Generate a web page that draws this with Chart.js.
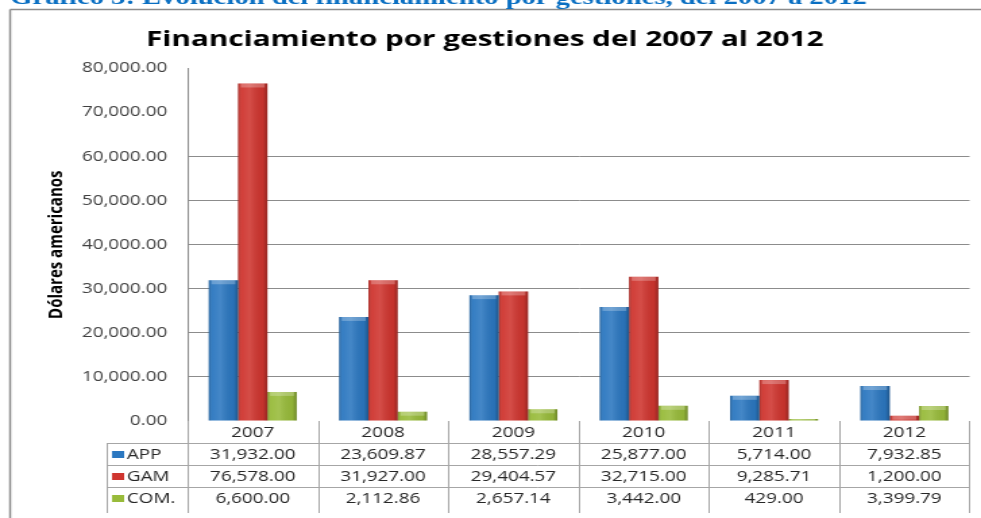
<!DOCTYPE html>
<html>
<head>
<meta charset="utf-8">
<script src="https://cdn.jsdelivr.net/npm/chart.js@4/dist/chart.umd.min.js"></script>
<style>
  html, body { margin: 0; padding: 0; background: #fff; overflow: hidden; }
  /* the reference picture is stretched sideways, so the chart is drawn narrow and widened */
  #wrap { width: 727px; height: 518px; transform: scaleX(1.3494); transform-origin: 0 0; }
</style>
</head>
<body>
<div id="wrap"><canvas id="finChart" width="727" height="518"></canvas></div>
<script>
const heading = "Gráfico 3: Evolución del financiamiento por gestiones, del 2007 a 2012";
const years = ["2007", "2008", "2009", "2010", "2011", "2012"];
const seriesNames = ["APP", "GAM", "COM."];
const appValues = [31932.00, 23609.87, 28557.29, 25877.00, 5714.00, 7932.85];
const gamValues = [76578.00, 31927.00, 29404.57, 32715.00, 9285.71, 1200.00];
const comValues = [6600.00, 2112.86, 2657.14, 3442.00, 429.00, 3399.79];
const seriesColors = ["#2b77c0", "#cf352f", "#98bb3a"];

const fmt = (v) => v.toLocaleString("en-US", { minimumFractionDigits: 2, maximumFractionDigits: 2 });

// bevel-like shading on top of each bar
const shadePlugin = {
  id: "shade",
  afterDatasetsDraw(chart) {
    const ctx = chart.ctx;
    ctx.save();
    chart.data.datasets.forEach((ds, d) => {
      chart.getDatasetMeta(d).data.forEach((bar) => {
        const left = bar.x - bar.width / 2;
        const h = bar.base - bar.y;
        if (h <= 0) return;
        const g = ctx.createLinearGradient(left, 0, left + bar.width, 0);
        g.addColorStop(0, "rgba(0,0,0,0.22)");
        g.addColorStop(0.12, "rgba(255,255,255,0.05)");
        g.addColorStop(0.4, "rgba(255,255,255,0.12)");
        g.addColorStop(0.85, "rgba(0,0,0,0.05)");
        g.addColorStop(1, "rgba(0,0,0,0.28)");
        ctx.fillStyle = g;
        ctx.fillRect(left, bar.y, bar.width, h);
        const t = Math.min(4, h);
        ctx.fillStyle = "rgba(255,255,255,0.25)";
        ctx.fillRect(left + 2, bar.y, bar.width - 4, t);
      });
    });
    ctx.restore();
  }
};

// frame, heading and the data table under the plot
const tablePlugin = {
  id: "dataTable",
  afterDraw(chart) {
    const ctx = chart.ctx;
    const xs = chart.scales.x;
    const area = chart.chartArea;
    const half = (area.right - area.left) / years.length / 2;
    const top = area.bottom;
    const rowH = 22;
    const bottom = top + rowH * 4 + 4;
    const keyLeft = 79;

    ctx.save();
    // outer frame
    ctx.strokeStyle = "#8c8c8c";
    ctx.lineWidth = 1.5;
    ctx.beginPath();
    ctx.moveTo(7.5, 9.5); ctx.lineTo(chart.width, 9.5);
    ctx.moveTo(7.5, 9.5); ctx.lineTo(7.5, chart.height);
    ctx.stroke();

    // heading, cut at the top edge
    ctx.fillStyle = "#0a6fc2";
    ctx.font = "bold 19px 'Liberation Serif'";
    const w = ctx.measureText(heading).width;
    const size = 19 * 635 / w;
    ctx.font = "bold " + size.toFixed(2) + "px 'Liberation Serif'";
    ctx.textAlign = "left";
    ctx.textBaseline = "alphabetic";
    ctx.fillText(heading, 7.5, 4);

    // table grid
    ctx.strokeStyle = "#a6a6a6";
    ctx.lineWidth = 1;
    ctx.beginPath();
    for (let i = 0; i <= years.length; i++) {
      const bx = Math.round(xs.getPixelForValue(Math.min(i, years.length - 1)) + (i === years.length ? half : -half)) + 0.5;
      ctx.moveTo(bx, top);
      ctx.lineTo(bx, bottom);
    }
    ctx.moveTo(keyLeft + 0.5, top + rowH);
    ctx.lineTo(keyLeft + 0.5, bottom);
    for (let r = 1; r <= 3; r++) {
      const ry = Math.round(top + rowH * r) + 0.5;
      ctx.moveTo(keyLeft, ry);
      ctx.lineTo(area.right, ry);
    }
    ctx.stroke();

    ctx.font = "14px 'Open Sans'";
    ctx.textBaseline = "middle";
    ctx.textAlign = "center";
    ctx.fillStyle = "#262626";
    years.forEach((yr, i) => {
      ctx.fillText(yr, xs.getPixelForValue(i), top + rowH / 2 + 1);
    });
    chart.data.datasets.forEach((ds, d) => {
      const cy = top + rowH * (d + 1.5) + 1;
      ctx.fillStyle = seriesColors[d];
      ctx.fillRect(keyLeft + 4, cy - 4, 9, 7);
      ctx.fillStyle = "#262626";
      ctx.textAlign = "left";
      ctx.fillText(ds.label, keyLeft + 15, cy);
      ctx.textAlign = "center";
      ds.data.forEach((v, i) => {
        ctx.fillText(fmt(v), xs.getPixelForValue(i), cy);
      });
    });
    ctx.restore();
  }
};

new Chart(document.getElementById("finChart"), {
  type: "bar",
  data: {
    labels: years,
    datasets: [
      { label: seriesNames[0], data: appValues, backgroundColor: seriesColors[0] },
      { label: seriesNames[1], data: gamValues, backgroundColor: seriesColors[1] },
      { label: seriesNames[2], data: comValues, backgroundColor: seriesColors[2] },
    ],
  },
  options: {
    responsive: false,
    animation: false,
    layout: { padding: { left: 0, right: 8.5, top: 0, bottom: 97 } },
    datasets: { bar: { categoryPercentage: 0.675, barPercentage: 1.0 } },
    scales: {
      x: { display: false },
      y: {
        min: 0,
        max: 80000,
        afterFit: (scale) => { scale.width = 139; },
        ticks: {
          stepSize: 10000,
          padding: 15,
          color: "#404040",
          font: { family: "'Open Sans'", size: 14 },
          callback: (v) => fmt(v),
        },
        grid: {
          drawTicks: false,
          color: (c) => (c.tick && c.tick.value > 0 && c.tick.value <= 60000 ? "#8c8c8c" : "rgba(0,0,0,0)"),
        },
        border: { display: true, color: "#8c8c8c" },
        title: {
          display: true,
          text: "Dólares americanos",
          color: "#000",
          font: { family: "'Open Sans'", size: 15, weight: "bold" },
          padding: { top: 33, bottom: 0 },
        },
      },
    },
    plugins: {
      legend: { display: false },
      tooltip: { enabled: false },
      title: {
        display: true,
        text: "Financiamiento por gestiones del 2007 al 2012",
        color: "#000",
        font: { family: "'Open Sans'", size: 22, weight: "bold" },
        padding: { top: 27, bottom: 15 },
      },
    },
  },
  plugins: [shadePlugin, tablePlugin],
});
</script>
</body>
</html>
